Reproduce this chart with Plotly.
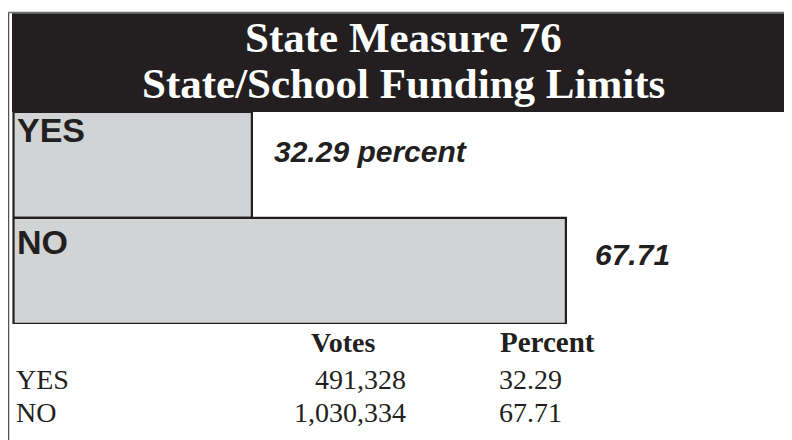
import plotly.graph_objects as go

# ---- data ----
choices = ["YES", "NO"]
percents = [32.29, 67.71]
votes = [491328, 1030334]
title_lines = ["State Measure 76", "State/School Funding Limits"]
table_headers = ["Votes", "Percent"]

# page body has an 8px margin, so the figure is drawn 8px smaller and offset
OFF = 8
W, H = 792 - OFF, 440 - OFF
def px(x):
    return (x - OFF) / W
def py(y):
    return 1 - (y - OFF) / H

DARK = "#231f20"
BAR = "#d1d3d4"
SERIF = "Liberation Serif, Times New Roman, serif"
SANS = "Liberation Sans, Arial, sans-serif"

fig = go.Figure(
    go.Bar(
        x=percents,
        y=choices,
        orientation="h",
        width=1,
        marker=dict(color=BAR, line=dict(color=DARK, width=2.2)),
        hoverinfo="skip",
    )
)

x_left = 13
fig.update_layout(
    width=W,
    height=H,
    margin=dict(l=0, r=0, t=0, b=0),
    paper_bgcolor="white",
    plot_bgcolor="white",
    showlegend=False,
    bargap=0,
    xaxis=dict(domain=[px(x_left), 1], range=[5.33, 5.33 + (792 - x_left) / 8.865],
               visible=False, fixedrange=True),
    yaxis=dict(domain=[py(324), py(112)], categoryorder="array", categoryarray=choices,
               range=[1.5, -0.5], visible=False, fixedrange=True),
)

shapes = [
    # outer frame lines
    dict(type="line", xref="paper", yref="paper", x0=px(8.5), x1=px(8.5), y0=py(12), y1=0,
         line=dict(color="#555355", width=1.5)),
    dict(type="line", xref="paper", yref="paper", x0=px(8), x1=1, y0=py(12.5), y1=py(12.5),
         line=dict(color="#6d6e71", width=1.5)),
    # title band
    dict(type="rect", xref="paper", yref="paper", x0=px(12), x1=1, y0=py(112), y1=py(13.2),
         fillcolor=DARK, line=dict(width=0), layer="below"),
    # left edge of bars
    dict(type="line", xref="paper", yref="paper", x0=px(13.5), x1=px(13.5), y0=py(324), y1=py(112),
         line=dict(color=DARK, width=2.2)),
]

annotations = []
# title
for t, yc in zip(title_lines, [38, 83]):
    annotations.append(dict(text=t, xref="paper", yref="paper", x=px(403), y=py(yc),
                            xanchor="center", yanchor="middle", showarrow=False,
                            font=dict(family=SERIF, size=43, color="white", weight="bold")))
# bar labels
for c, yoff in zip(choices, [-35, -29]):
    annotations.append(dict(text=c, xref="paper", yref="y", x=px(15), y=c, yshift=-yoff,
                            xanchor="left", yanchor="middle", showarrow=False,
                            font=dict(family=SANS, size=34, color=DARK, weight="bold")))
# value labels
pct_texts = [f"{percents[0]:.2f} percent", f"{percents[1]:.2f}"]
for c, v, t, xs, ys in zip(choices, percents, pct_texts, [20, 27], [14, 17]):
    annotations.append(dict(text=t, xref="x", yref="y", x=v, y=c, xshift=xs, yshift=ys,
                            xanchor="left", yanchor="middle", showarrow=False,
                            font=dict(family=SANS, size=30, color=DARK, weight="bold",
                                      style="italic")))
# table
annotations.append(dict(text=table_headers[0], xref="paper", yref="paper", x=px(343), y=py(342),
                        xanchor="center", yanchor="middle", showarrow=False,
                        font=dict(family=SERIF, size=28, color=DARK, weight="bold")))
annotations.append(dict(text=table_headers[1], xref="paper", yref="paper", x=px(498), y=py(342),
                        xanchor="left", yanchor="middle", showarrow=False,
                        font=dict(family=SERIF, size=29, color=DARK, weight="bold")))
for c, v, p, yc in zip(choices, votes, percents, [379, 412]):
    annotations.append(dict(text=c, xref="paper", yref="paper", x=px(14), y=py(yc),
                            xanchor="left", yanchor="middle", showarrow=False,
                            font=dict(family=SERIF, size=28, color=DARK)))
    annotations.append(dict(text=f"{v:,}", xref="paper", yref="paper", x=px(408), y=py(yc),
                            xanchor="right", yanchor="middle", showarrow=False,
                            font=dict(family=SERIF, size=28, color=DARK)))
    annotations.append(dict(text=f"{p:.2f}", xref="paper", yref="paper", x=px(497), y=py(yc),
                            xanchor="left", yanchor="middle", showarrow=False,
                            font=dict(family=SERIF, size=28, color=DARK)))

fig.update_layout(shapes=shapes, annotations=annotations)
fig.write_html("out.html", config={"displayModeBar": False})
